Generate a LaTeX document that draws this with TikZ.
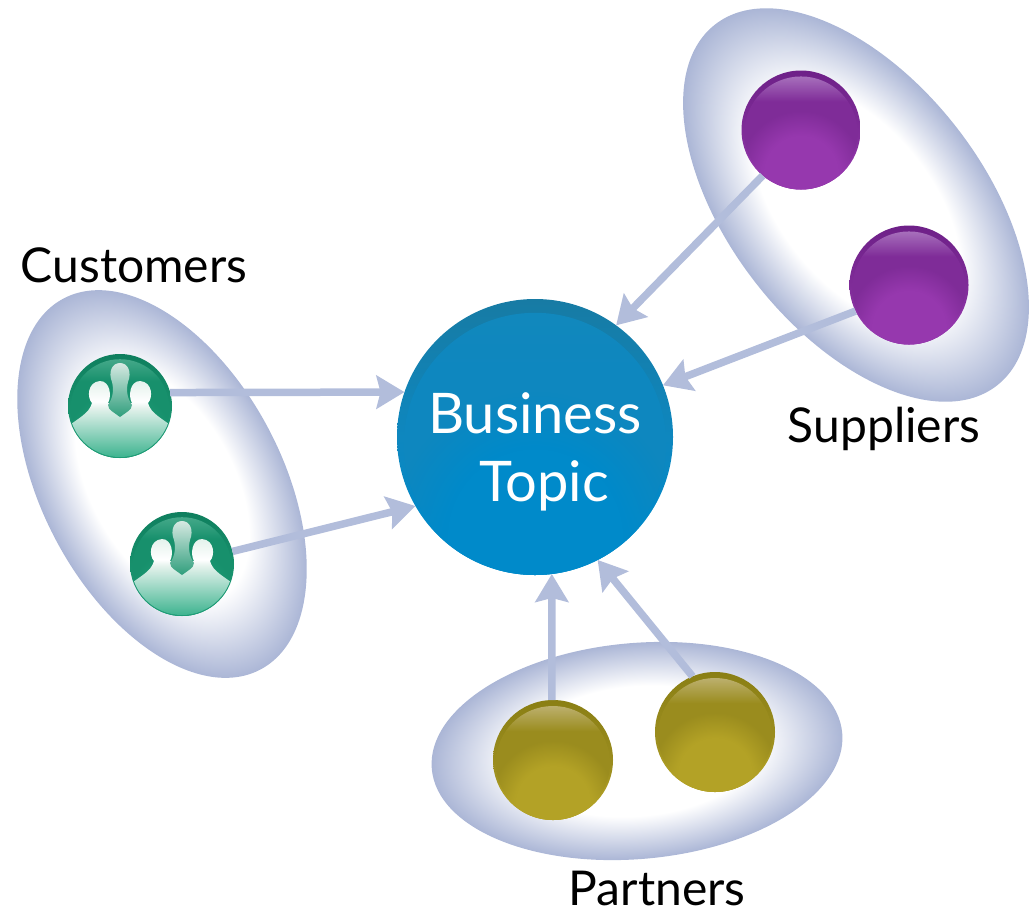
\documentclass[tikz,border=0pt]{standalone}
\usepackage{fontspec}
\setmainfont{Lato}
\usetikzlibrary{arrows.meta}
\usetikzlibrary{calc}
\usetikzlibrary{fadings}

\definecolor{glowedge}{HTML}{ABB6D6}
\definecolor{arrowblue}{HTML}{B2BDDB}

\pgfdeclareradialshading{groupglow}{\pgfpoint{0bp}{0bp}}{color(0bp)=(white); color(15bp)=(white); color(25bp)=(glowedge); color(50bp)=(glowedge)}
\pgfdeclareradialshading{ballglowshade}{\pgfpoint{0bp}{0bp}}{color(0bp)=(white); color(15bp)=(white); color(25bp)=(black); color(50bp)=(black)}
\pgfdeclarefading{ballglow}{\pgfuseshading{ballglowshade}}

% rim, highlight, dark band, bright band
\newcommand{\ballshading}[5]{%
  \definecolor{#1rim}{HTML}{#2}\definecolor{#1light}{HTML}{#3}%
  \definecolor{#1dark}{HTML}{#4}\definecolor{#1bright}{HTML}{#5}%
  \pgfdeclareverticalshading{#1base}{100bp}{color(0bp)=(#1bright); color(25bp)=(#1bright); color(50bp)=(#1dark); color(75bp)=(#1rim); color(100bp)=(#1rim)}%
  \pgfdeclareverticalshading{#1top}{100bp}{color(0bp)=(#1bright); color(25bp)=(#1bright); color(38bp)=(#1dark); color(62bp)=(#1dark); color(75bp)=(#1light); color(100bp)=(#1light)}%
}
\ballshading{purple}{6E2088}{B07FC4}{7F2C98}{9638AE}
\ballshading{gold}{8A7F14}{C4B880}{9A8C1E}{B3A226}
\ballshading{green}{0F7F5E}{4FAE90}{17906C}{1E9C76}
\ballshading{topic}{177BA4}{1288BC}{0E87BF}{008ACA}

\definecolor{peopletop}{HTML}{E4F2EC}
\definecolor{peoplebot}{HTML}{34B08A}
\definecolor{headtop}{HTML}{D6E9E2}
\definecolor{headbot}{HTML}{2F9E7C}
\pgfdeclareverticalshading{peoplebody}{100bp}{color(0bp)=(peoplebot); color(25bp)=(peoplebot); color(58bp)=(peopletop); color(62bp)=(white); color(75bp)=(peopletop); color(100bp)=(peopletop)}
\pgfdeclareverticalshading{peoplehead}{100bp}{color(0bp)=(headbot); color(25bp)=(headbot); color(75bp)=(headtop); color(100bp)=(headtop)}

\newcommand{\groupblob}[5]{%
  \begin{scope}[transform canvas={xshift=#1pt,yshift=-#2pt,rotate=#3}]
    \shade[shading=groupglow] (0,0) ellipse [x radius=#4, y radius=#5];
  \end{scope}
}

\tikzset{
  ball/.style 2 args={circle, inner sep=0pt, outer sep=0pt, minimum size=2*#2, shade, shading=#1base,
    path picture={
      \shade[shading=#1top] ($(path picture bounding box.center)+(0,{.05*#2})$) circle ({.95*#2});
      \fill[#1bright, path fading=ballglow] ($(path picture bounding box.center)+(0,{.72*#2})$) circle ({1.05*#2});
    }},
  flow/.style={arrowblue, line width=7.5pt, -{Stealth[length=28pt,width=33pt,inset=4pt]}},
  grouplabel/.style={text=black, font=\fontsize{48}{48}\selectfont, inner sep=0pt, anchor=base},
  people/.pic={
    \begin{scope}
    \clip (0,0) circle (51);
    \shade[shading=peoplebody] (-54,22) .. controls (-42,12) and (-31,8) .. (-28,-3)
      .. controls (-33,-8) and (-33,-24) .. (-20,-25)
      .. controls (-10,-25) and (-8,-10) .. (-12,-3) -- (12,-3)
      .. controls (8,-10) and (10,-25) .. (20,-25)
      .. controls (33,-24) and (33,-8) .. (28,-3)
      .. controls (31,8) and (42,12) .. (54,22) -- (54,54) -- (-54,54) -- cycle;
    \shade[shading=peoplehead] (0,-43) .. controls (8,-43) and (12,-34) .. (8,-24)
      .. controls (6,-16) and (7,-8) .. (12,-1)
      .. controls (12,4) and (5,7) .. (0,11)
      .. controls (-5,7) and (-12,4) .. (-12,-1)
      .. controls (-7,-8) and (-6,-16) .. (-8,-24)
      .. controls (-12,-34) and (-8,-43) .. (0,-43) -- cycle;
    \end{scope}
  },
}

\begin{document}
\begin{tikzpicture}[x=1pt,y=-1pt]
  \useasboundingbox (0,0) rectangle (1030,911);
  % groups
  \groupblob{162}{484}{-62}{210}{120}
  \groupblob{856}{205}{-52}{229}{127}
  \groupblob{637}{751}{5}{206}{108}
  % balls
  \node[ball={green}{52}] (cust1) at (120,406) {};
  \node[ball={green}{52}] (cust2) at (182,564) {};
  \pic at (cust1) {people};
  \pic at (cust2) {people};
  \node[ball={purple}{59.5}] (supp1) at (801,130) {};
  \node[ball={purple}{59.5}] (supp2) at (909,285) {};
  \node[ball={gold}{60}] (part1) at (553,760) {};
  \node[ball={gold}{60}] (part2) at (715,732) {};
  \node[ball={topic}{138}] (topic) at (535,437) {};
  % labels
  \node[text=white, align=center, font=\fontsize{56}{68}\selectfont, inner sep=0pt] (topictext) at (535,452) {Business\\\hspace*{18pt}Topic};
  \node[grouplabel] (lcust) at (134,282) {Customers};
  \node[grouplabel] (lsupp) at (884,442) {Suppliers};
  \node[grouplabel] (lpart) at (657,905) {Partners};
  % arrows
  \draw[flow] (cust1.15) -- (topic.161);
  \draw[flow] (cust2.14) -- (topic.210);
  \draw[flow] (supp1.230) -- (topic.54);
  \draw[flow] (supp2.206) -- (topic.22);
  \draw[flow] (part1.91) -- (topic.277);
  \draw[flow] (part2.112) -- (topic.297);
\end{tikzpicture}
\end{document}
